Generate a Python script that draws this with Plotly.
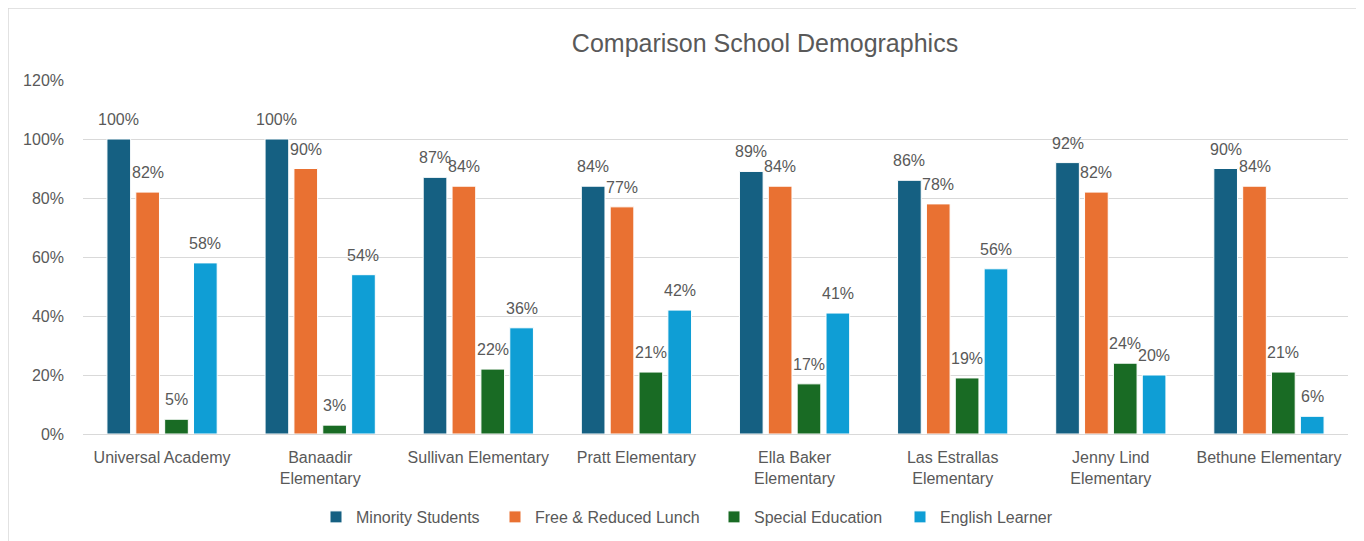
import plotly.graph_objects as go

schools = ["Universal Academy", "Banaadir<br>Elementary", "Sullivan Elementary", "Pratt Elementary",
           "Ella Baker<br>Elementary", "Las Estrallas<br>Elementary", "Jenny Lind<br>Elementary",
           "Bethune Elementary"]
minority = [100, 100, 87, 84, 89, 86, 92, 90]
free_reduced_lunch = [82, 90, 84, 77, 84, 78, 82, 84]
special_education = [5, 3, 22, 21, 17, 19, 24, 21]
english_learner = [58, 54, 36, 42, 41, 56, 20, 6]

series = [
    ("Minority Students", minority, "#156082"),
    ("Free & Reduced Lunch", free_reduced_lunch, "#E97132"),
    ("Special Education", special_education, "#196B24"),
    ("English Learner", english_learner, "#0F9ED5"),
]

FONT = "Liberation Sans"
GRAY = "#595959"
BARGAP = 0.27
BARGROUPGAP = 0.18

# page is rendered with an 8px body margin; compensate
W, H = 1356, 533
L, R, T, B = 75, 16, 72, 107
PW, PH = W - L - R, H - T - B
legend_left_px = [308, 487, 706, 892]  # figure px, left edge of each legend entry
legend_y_px = 509

fig = go.Figure()
annotations = []
legends = {}
n = len(series)
slot = (1 - BARGAP) / n
for k, (name, vals, color) in enumerate(series):
    lg = "legend" if k == 0 else f"legend{k + 1}"
    fig.add_trace(go.Bar(
        x=schools, y=vals, name=name, legend=lg,
        marker=dict(color=color, line=dict(color="white", width=1)),
    ))
    legends[lg] = dict(orientation="h", x=(legend_left_px[k] - L) / PW, xanchor="left",
                       y=(PH + T - legend_y_px) / PH, yanchor="middle",
                       bgcolor="rgba(0,0,0,0)",
                       font=dict(family=FONT, size=16, color=GRAY), itemwidth=30)
    off = (k - (n - 1) / 2) * slot
    for i, v in enumerate(vals):
        annotations.append(dict(
            x=i + off, y=v, xref="x", yref="y", text=f"{v}%", showarrow=False,
            yanchor="bottom", xanchor="center", yshift=9,
            font=dict(family=FONT, size=16, color=GRAY),
        ))

fig.update_layout(
    width=W, height=H,
    paper_bgcolor="white", plot_bgcolor="white",
    barmode="group", bargap=BARGAP, bargroupgap=BARGROUPGAP,
    margin=dict(l=L, r=R, t=T, b=B, autoexpand=False),
    title=dict(text="Comparison School Demographics", xref="container", x=757/W, xanchor="center",
               yref="container", y=1-35/H, yanchor="middle",
               font=dict(family=FONT, size=25, color=GRAY)),
    font=dict(family=FONT, size=16, color=GRAY),
    xaxis=dict(showgrid=False, showline=True, linecolor="#D9D9D9", ticks="",
               ticklabelstandoff=9,
               tickfont=dict(family=FONT, size=16, color=GRAY)),
    yaxis=dict(range=[0, 120], dtick=20, ticksuffix="%", showgrid=True, gridcolor="#D9D9D9",
               zeroline=False, showline=False, ticks="", ticklabelstandoff=18,
               tickfont=dict(family=FONT, size=16, color=GRAY)),
    annotations=annotations,
    showlegend=True,
    **legends,
)

fig.add_shape(type="line", xref="paper", yref="paper", x0=-L/PW, x1=(W-L)/PW,
              y0=(PH + T)/PH, y1=(PH + T)/PH, line=dict(color="#D9D9D9", width=1.5))
fig.add_shape(type="line", xref="paper", yref="paper", x0=-L/PW, x1=-L/PW,
              y0=(PH + T)/PH, y1=(PH + T - H)/PH, line=dict(color="#D9D9D9", width=1.5))

fig.write_html("out.html")
